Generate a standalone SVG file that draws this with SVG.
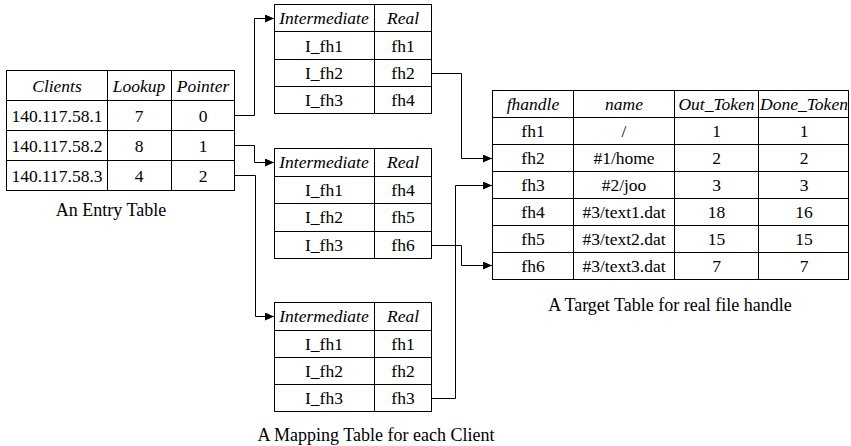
<svg xmlns="http://www.w3.org/2000/svg" width="851" height="446" viewBox="0 0 851 446" font-family="'Liberation Serif', 'DejaVu Serif', serif">
<style>
.cell{fill:#fff;stroke:#000;stroke-width:1}
.ln{stroke:#000;stroke-width:1;fill:none}
text{font-family:'Liberation Serif', 'DejaVu Serif', serif;font-size:17.5px;fill:#000;text-anchor:middle}
.h{font-style:italic}
.cap{font-size:18px}
.con{stroke:#000;stroke-width:1;fill:none}
</style>
<defs>
<marker id="arr" viewBox="0 0 9 8" refX="9" refY="4" markerWidth="9" markerHeight="8" markerUnits="userSpaceOnUse" orient="auto">
<path d="M0,0 L9,4 L0,8 Z" fill="#000"/>
</marker>
</defs>

<g id="entry-table">
<rect class="cell" x="6.5" y="70.5" width="228" height="120"/>
<path class="ln" d="M6.5,100.5H234.5M6.5,130.5H234.5M6.5,160.5H234.5M107.5,70.5V190.5M171.5,70.5V190.5"/>
<text class="h" x="57" y="92">Clients</text>
<text class="h" x="139" y="92">Lookup</text>
<text class="h" x="203" y="92">Pointer</text>
<text x="57" y="122">140.117.58.1</text><text x="139" y="122">7</text><text x="203" y="122">0</text>
<text x="57" y="152">140.117.58.2</text><text x="139" y="152">8</text><text x="203" y="152">1</text>
<text x="57" y="182">140.117.58.3</text><text x="139" y="182">4</text><text x="203" y="182">2</text>
<text class="cap" x="111" y="216">An Entry Table</text>
</g>

<g id="mapping-table-1">
<rect class="cell" x="274.5" y="4.5" width="157" height="109"/>
<path class="ln" d="M274.5,31.5H431.5M274.5,59.5H431.5M274.5,86.5H431.5M374.5,4.5V113.5"/>
<text class="h" x="324" y="24">Intermediate</text><text class="h" x="403" y="24">Real</text>
<text x="324" y="52">I_fh1</text><text x="403" y="52">fh1</text>
<text x="324" y="79">I_fh2</text><text x="403" y="79">fh2</text>
<text x="324" y="106">I_fh3</text><text x="403" y="106">fh4</text>
</g>

<g id="mapping-table-2">
<rect class="cell" x="274.5" y="148.5" width="157" height="110"/>
<path class="ln" d="M274.5,176.5H431.5M274.5,203.5H431.5M274.5,231.5H431.5M374.5,148.5V258.5"/>
<text class="h" x="324" y="168">Intermediate</text><text class="h" x="403" y="168">Real</text>
<text x="324" y="196">I_fh1</text><text x="403" y="196">fh4</text>
<text x="324" y="223">I_fh2</text><text x="403" y="223">fh5</text>
<text x="324" y="251">I_fh3</text><text x="403" y="251">fh6</text>
</g>

<g id="mapping-table-3">
<rect class="cell" x="274.5" y="302.5" width="157" height="109"/>
<path class="ln" d="M274.5,330.5H431.5M274.5,357.5H431.5M274.5,384.5H431.5M374.5,302.5V411.5"/>
<text class="h" x="324" y="322">Intermediate</text><text class="h" x="403" y="322">Real</text>
<text x="324" y="350">I_fh1</text><text x="403" y="350">fh1</text>
<text x="324" y="377">I_fh2</text><text x="403" y="377">fh2</text>
<text x="324" y="404">I_fh3</text><text x="403" y="404">fh3</text>
<text class="cap" x="376" y="441">A Mapping Table for each Client</text>
</g>

<g id="target-table">
<rect class="cell" x="492.5" y="90.5" width="356" height="189"/>
<path class="ln" d="M492.5,117.5H848.5M492.5,144.5H848.5M492.5,171.5H848.5M492.5,198.5H848.5M492.5,225.5H848.5M492.5,252.5H848.5M573.5,90.5V279.5M674.5,90.5V279.5M758.5,90.5V279.5"/>
<text class="h" x="533" y="110">fhandle</text>
<text class="h" x="624" y="110">name</text>
<text class="h" x="716.5" y="110">Out_Token</text>
<text class="h" x="804" y="110">Done_Token</text>
<text x="533" y="137">fh1</text><text x="624" y="137">/</text><text x="716.5" y="137">1</text><text x="804" y="137">1</text>
<text x="533" y="164">fh2</text><text x="624" y="164">#1/home</text><text x="716.5" y="164">2</text><text x="804" y="164">2</text>
<text x="533" y="191">fh3</text><text x="624" y="191">#2/joo</text><text x="716.5" y="191">3</text><text x="804" y="191">3</text>
<text x="533" y="218">fh4</text><text x="624" y="218">#3/text1.dat</text><text x="716.5" y="218">18</text><text x="804" y="218">16</text>
<text x="533" y="245">fh5</text><text x="624" y="245">#3/text2.dat</text><text x="716.5" y="245">15</text><text x="804" y="245">15</text>
<text x="533" y="272">fh6</text><text x="624" y="272">#3/text3.dat</text><text x="716.5" y="272">7</text><text x="804" y="272">7</text>
<text class="cap" x="670" y="311">A Target Table for real file handle</text>
</g>

<g id="connectors">
<path class="con" marker-end="url(#arr)" d="M234.5,115.5H254.5V18.5H274"/>
<path class="con" marker-end="url(#arr)" d="M234.5,145.5H254.5V162.5H274"/>
<path class="con" marker-end="url(#arr)" d="M234.5,175.5H255.5V316.5H274"/>
<path class="con" marker-end="url(#arr)" d="M431.5,73.5H461.5V158.5H492"/>
<path class="con" marker-end="url(#arr)" d="M431.5,245.5H461.5V265.5H492"/>
<path class="con" marker-end="url(#arr)" d="M431.5,398.5H455.5V185.5H492"/>
</g>
</svg>
